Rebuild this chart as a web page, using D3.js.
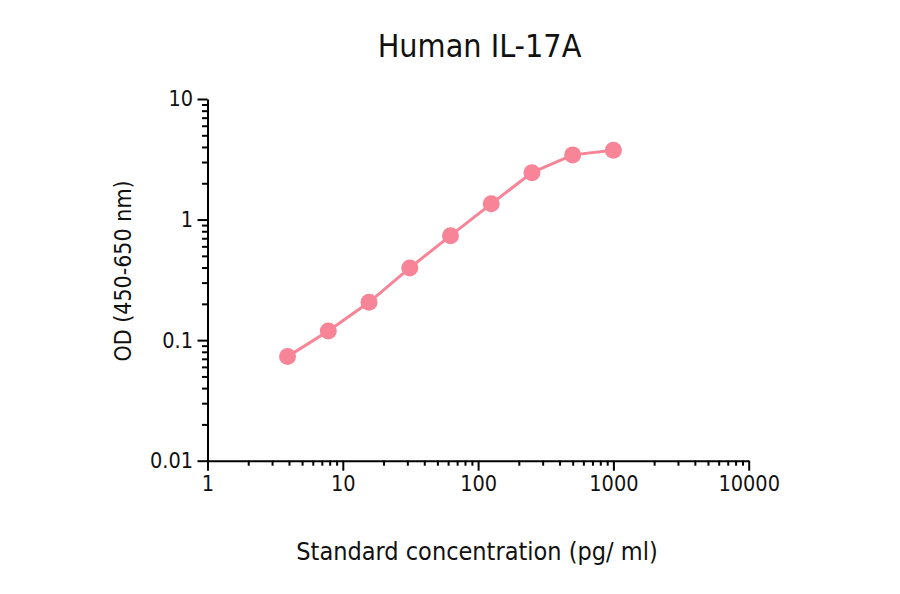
<!DOCTYPE html>
<html>
<head>
<meta charset="utf-8">
<script src="https://cdn.jsdelivr.net/npm/d3@7"></script>
<style>
  html, body { margin: 0; padding: 0; background: #fff; }
  svg { display: block; }
  text { font-family: "DejaVu Sans Condensed", "DejaVu Sans", sans-serif; font-stretch: condensed; fill: #111; }
</style>
</head>
<body>
<svg id="chart" width="900" height="594"></svg>
<script>
const title = "Human IL-17A";
const xLabel = "Standard concentration (pg/ ml)";
const yLabel = "OD (450-650 nm)";
const concentrations = [3.90625, 7.8125, 15.625, 31.25, 62.5, 125, 250, 500, 1000];
const odValues = [0.073, 0.119, 0.206, 0.397, 0.735, 1.35, 2.45, 3.44, 3.75];
const xMajorTicks = [1, 10, 100, 1000, 10000];
const xTickLabels = ["1", "10", "100", "1000", "10000"];
const yMajorTicks = [0.01, 0.1, 1, 10];
const yTickLabels = ["0.01", "0.1", "1", "10"];

const svg = d3.select("#chart");
const x = d3.scaleLog().domain([1, 10000]).range([207.5, 748.7]);
const y = d3.scaleLog().domain([0.01, 10]).range([460.7, 99]);
const color = "#f88597";

function minorTicks(majors) {
  const out = [];
  for (let i = 0; i < majors.length - 1; i++) {
    for (let k = 2; k <= 9; k++) out.push(majors[i] * k);
  }
  return out;
}

// X axis
const xAll = xMajorTicks.concat(minorTicks(xMajorTicks));
const gx = svg.append("g").attr("transform", `translate(0,${y(0.01)})`)
  .call(d3.axisBottom(x).tickValues(xAll).tickSize(10).tickSizeOuter(0)
    .tickFormat(d => { const i = xMajorTicks.indexOf(d); return i >= 0 ? xTickLabels[i] : ""; }));
gx.select(".domain").attr("stroke", "#000").attr("stroke-width", 2);
gx.selectAll(".tick line").attr("stroke", "#000").attr("stroke-width", 2)
  .attr("y2", d => xMajorTicks.indexOf(d) >= 0 ? 10 : 5);
gx.selectAll(".tick text").attr("font-size", 21.5).attr("y", 15).attr("fill", "#111")
  .style("font-family", null);

// Y axis
const yAll = yMajorTicks.concat(minorTicks(yMajorTicks));
const gy = svg.append("g").attr("transform", `translate(${x(1)},0)`)
  .call(d3.axisLeft(y).tickValues(yAll).tickSize(10).tickSizeOuter(0)
    .tickFormat(d => { const i = yMajorTicks.findIndex(v => Math.abs(v - d) < 1e-9); return i >= 0 ? yTickLabels[i] : ""; }));
gy.select(".domain").attr("stroke", "#000").attr("stroke-width", 2);
gy.selectAll(".tick line").attr("stroke", "#000").attr("stroke-width", 2)
  .attr("x2", d => yMajorTicks.some(v => Math.abs(v - d) < 1e-9) ? -10 : -5.5);
gy.selectAll(".tick text").attr("font-size", 21.5).attr("x", -14.5).attr("fill", "#111");
svg.selectAll(".tick text").style("font-family", "\"DejaVu Sans Condensed\", \"DejaVu Sans\", sans-serif");

// Line + points
const data = concentrations.map((c, i) => ({ c, v: odValues[i] }));
svg.append("path").datum(data)
  .attr("fill", "none").attr("stroke", color).attr("stroke-width", 3)
  .attr("d", d3.line().x(d => x(d.c)).y(d => y(d.v)));
svg.selectAll("circle.pt").data(data).enter().append("circle")
  .attr("class", "pt")
  .attr("cx", d => x(d.c)).attr("cy", d => y(d.v)).attr("r", 8.5)
  .attr("fill", color);

// Title and labels
svg.append("text").attr("x", 479.5).attr("y", 57).attr("text-anchor", "middle")
  .attr("font-size", 32).text(title);
svg.append("text").attr("x", 477).attr("y", 560).attr("text-anchor", "middle")
  .attr("font-size", 25).text(xLabel);
svg.append("text").attr("transform", "translate(131,271) rotate(-90)")
  .attr("text-anchor", "middle").attr("font-size", 23).text(yLabel);
</script>
</body>
</html>
